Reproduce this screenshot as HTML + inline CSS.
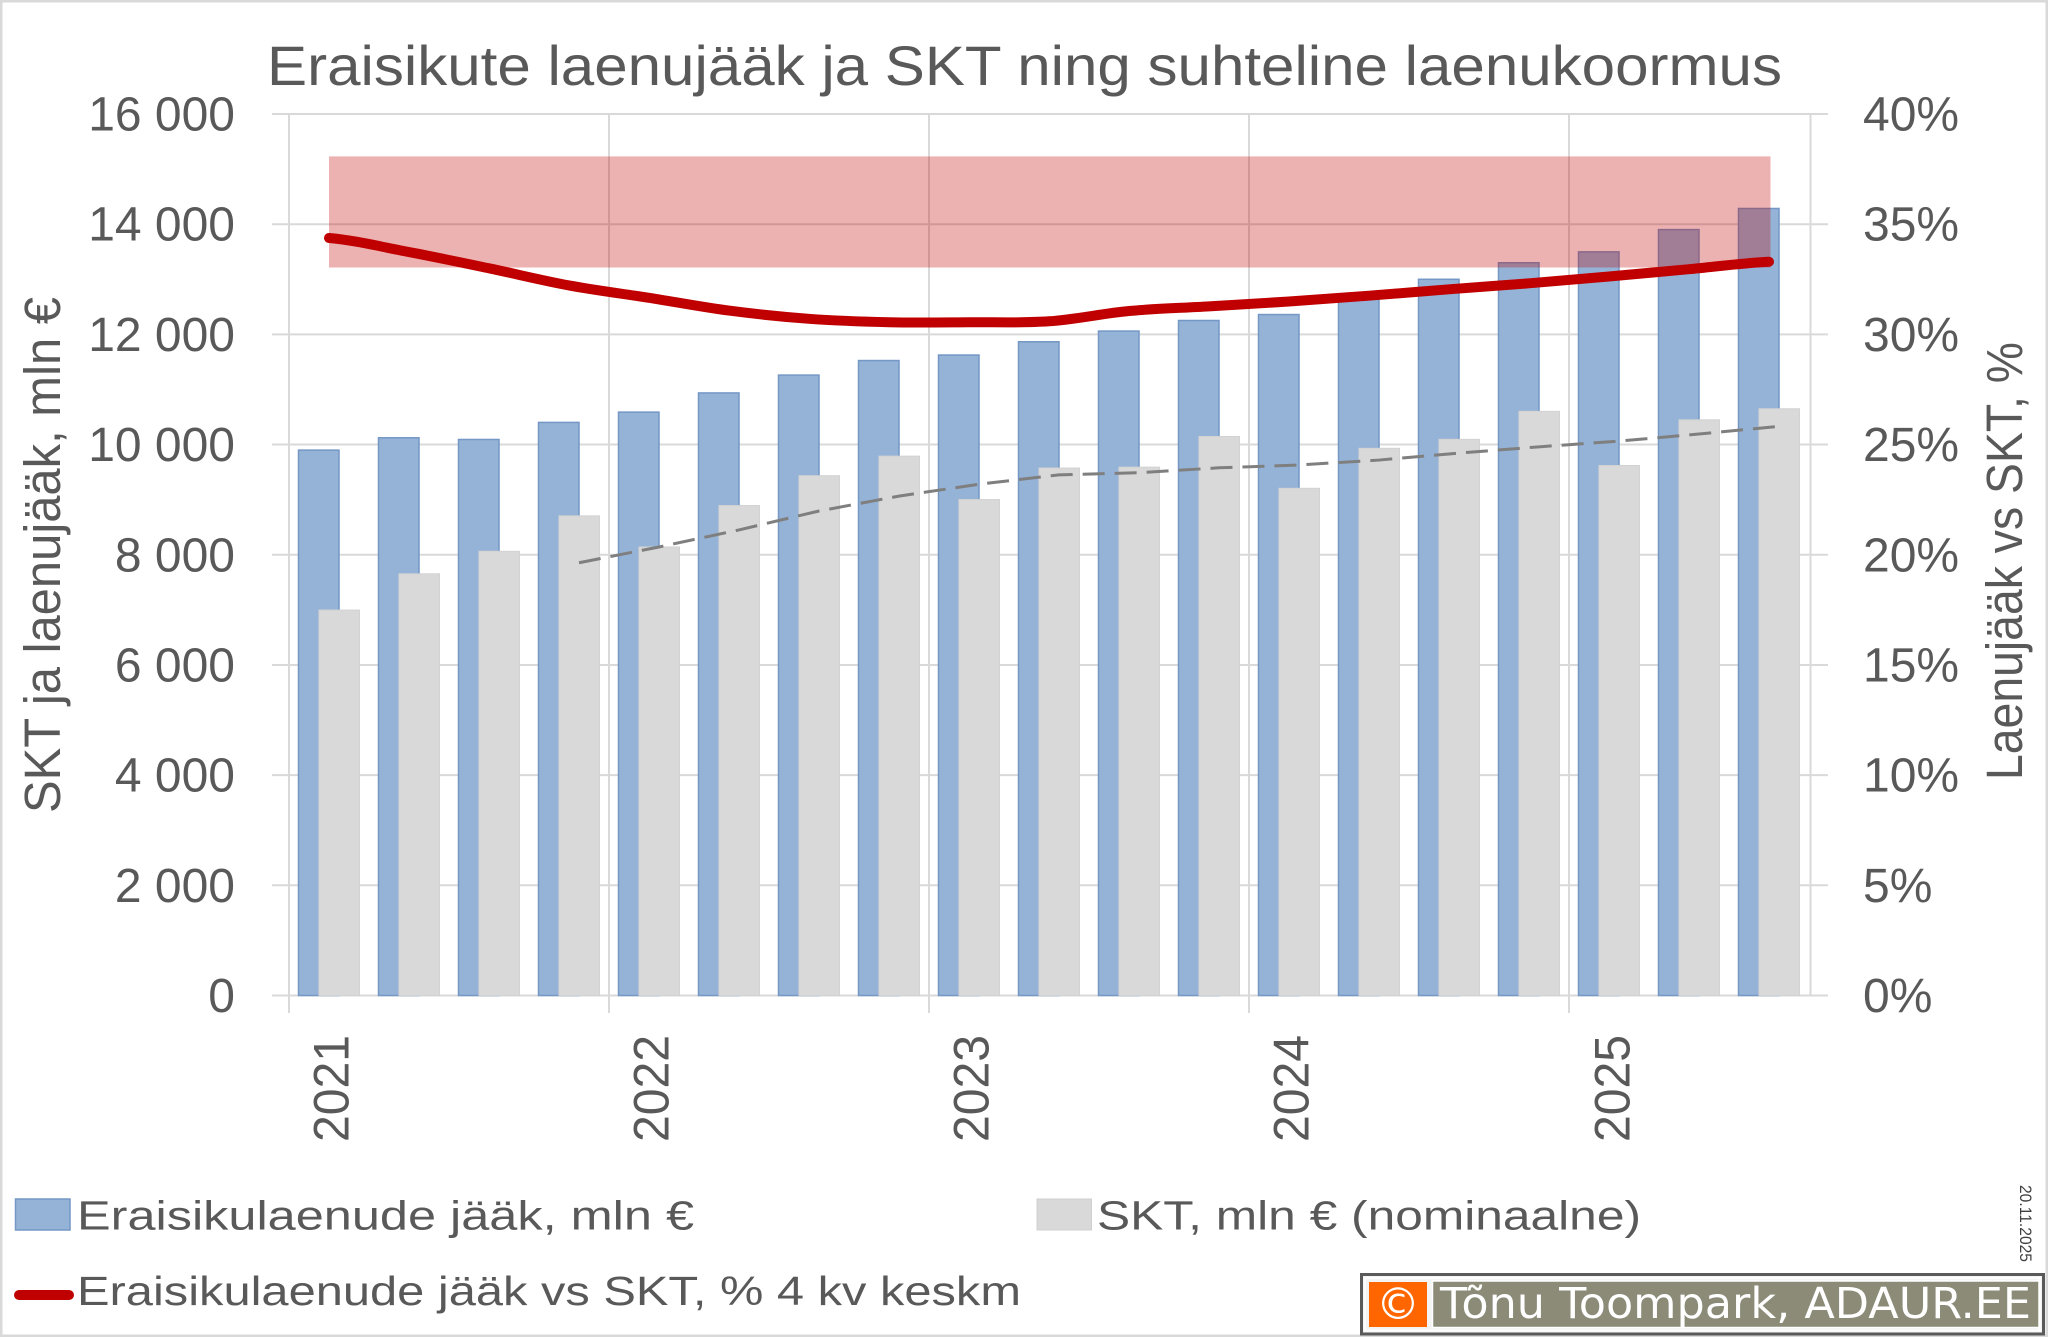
<!DOCTYPE html>
<html>
<head>
<meta charset="utf-8">
<style>
html,body{margin:0;padding:0;background:#fff;}
svg{display:block;}
text{font-family:"Liberation Sans",Arial,sans-serif;fill:#595959;}
</style>
</head>
<body>
<svg width="2048" height="1337" viewBox="0 0 2048 1337" xmlns="http://www.w3.org/2000/svg">
<rect x="0" y="0" width="2048" height="1337" fill="#ffffff"/>
<rect x="1.25" y="1.25" width="2045.5" height="1334.5" fill="none" stroke="#d9d9d9" stroke-width="2.5"/>

<!-- Title -->
<text x="267" y="85" font-size="56" textLength="1515" lengthAdjust="spacingAndGlyphs">Eraisikute laenujääk ja SKT ning suhteline laenukoormus</text>

<!-- Gridlines -->
<g stroke="#d9d9d9" stroke-width="2" fill="none">
<line x1="272" y1="114" x2="1828" y2="114"/>
<line x1="272" y1="224.19" x2="1828" y2="224.19"/>
<line x1="272" y1="334.38" x2="1828" y2="334.38"/>
<line x1="272" y1="444.56" x2="1828" y2="444.56"/>
<line x1="272" y1="554.75" x2="1828" y2="554.75"/>
<line x1="272" y1="664.94" x2="1828" y2="664.94"/>
<line x1="272" y1="775.13" x2="1828" y2="775.13"/>
<line x1="272" y1="885.31" x2="1828" y2="885.31"/>
<line x1="272" y1="995.5" x2="1828" y2="995.5"/>
<line x1="289" y1="114" x2="289" y2="1013"/>
<line x1="609" y1="114" x2="609" y2="1013"/>
<line x1="929" y1="114" x2="929" y2="1013"/>
<line x1="1249" y1="114" x2="1249" y2="1013"/>
<line x1="1569" y1="114" x2="1569" y2="1013"/>
<line x1="1810.5" y1="114" x2="1810.5" y2="995.5"/>
</g>

<!-- Blue bars -->
<g fill="#95b3d7" stroke="#7497c5" stroke-width="1.5">
<rect x="298.5" y="450.13" width="40.5" height="545.37"/>
<rect x="378.5" y="437.79" width="40.5" height="557.71"/>
<rect x="458.5" y="439.49" width="40.5" height="556.01"/>
<rect x="538.5" y="422.41" width="40.5" height="573.09"/>
<rect x="618.5" y="412.11" width="40.5" height="583.39"/>
<rect x="698.5" y="392.94" width="40.5" height="602.56"/>
<rect x="778.5" y="375.09" width="40.5" height="620.41"/>
<rect x="858.5" y="360.54" width="40.5" height="634.96"/>
<rect x="938.5" y="355.03" width="40.5" height="640.47"/>
<rect x="1018.5" y="341.76" width="40.5" height="653.74"/>
<rect x="1098.5" y="331.07" width="40.5" height="664.43"/>
<rect x="1178.5" y="320.49" width="40.5" height="675.01"/>
<rect x="1258.5" y="314.54" width="40.5" height="680.96"/>
<rect x="1338.5" y="298.56" width="40.5" height="696.94"/>
<rect x="1418.5" y="279.28" width="40.5" height="716.22"/>
<rect x="1498.5" y="262.75" width="40.5" height="732.75"/>
<rect x="1578.5" y="251.84" width="40.5" height="743.66"/>
<rect x="1658.5" y="229.59" width="40.5" height="765.91"/>
<rect x="1738.5" y="208.48" width="40.5" height="787.02"/>
</g>

<!-- Gray bars -->
<g fill="#d9d9d9" stroke="#d2d2d2" stroke-width="1">
<rect x="319" y="610.06" width="40.5" height="385.44"/>
<rect x="399" y="573.81" width="40.5" height="421.69"/>
<rect x="479" y="551.28" width="40.5" height="444.22"/>
<rect x="559" y="515.85" width="40.5" height="479.65"/>
<rect x="639" y="546.98" width="40.5" height="448.52"/>
<rect x="719" y="505.55" width="40.5" height="489.95"/>
<rect x="799" y="475.69" width="40.5" height="519.81"/>
<rect x="879" y="456.13" width="40.5" height="539.37"/>
<rect x="959" y="499.55" width="40.5" height="495.95"/>
<rect x="1039" y="468.03" width="40.5" height="527.47"/>
<rect x="1119" y="467.15" width="40.5" height="528.35"/>
<rect x="1199" y="436.46" width="40.5" height="559.04"/>
<rect x="1279" y="488.31" width="40.5" height="507.19"/>
<rect x="1359" y="448.31" width="40.5" height="547.19"/>
<rect x="1439" y="439.33" width="40.5" height="556.17"/>
<rect x="1519" y="411.34" width="40.5" height="584.16"/>
<rect x="1599" y="465.5" width="40.5" height="530.0"/>
<rect x="1679" y="419.82" width="40.5" height="575.68"/>
<rect x="1759" y="408.75" width="40.5" height="586.75"/>
</g>

<!-- Band -->
<rect x="329" y="156.4" width="1441.5" height="111.1" fill="rgb(192,0,0)" fill-opacity="0.3"/>

<!-- Moving average dashed -->
<polyline fill="none" stroke="#7f7f7f" stroke-width="3" stroke-dasharray="22,10"
points="579,562.76 659,546.98 739,529.91 819,511.02 899,496.09 979,484.23 1059,474.85 1139,472.72 1219,467.8 1299,464.99 1379,460.06 1459,453.1 1539,446.82 1619,441.12 1699,434.0 1779,426.35"/>

<!-- Red line -->
<path fill="none" stroke="#c00000" stroke-width="10" stroke-linecap="round" stroke-linejoin="round"
d="M329,238
C355.67,240.35 382.33,247.05 409,252.1
C435.67,257.15 462.33,262.75 489,268.3
C515.67,273.85 542.33,280.48 569,285.4
C595.67,290.32 622.33,293.6 649,297.8
C675.67,302 702.33,307.1 729,310.6
C755.67,314.1 782.33,316.87 809,318.8
C835.67,320.73 862.33,321.63 889,322.2
C915.67,322.77 942.33,322.35 969,322.2
C995.67,322.05 1022.33,323.17 1049,321.3
C1075.67,319.43 1102.33,313.48 1129,311
C1155.67,308.52 1182.33,307.98 1209,306.4
C1235.67,304.82 1262.33,303.28 1289,301.5
C1315.67,299.72 1342.33,297.73 1369,295.7
C1395.67,293.67 1422.33,291.37 1449,289.3
C1475.67,287.23 1502.33,285.43 1529,283.3
C1555.67,281.17 1582.33,278.85 1609,276.5
C1635.67,274.15 1662.33,271.67 1689,269.2
C1715.67,266.73 1742.33,262.95 1769,261.7"/>

<!-- Left axis labels -->
<g font-size="48" text-anchor="end">
<text x="235" y="130.5">16 000</text>
<text x="235" y="240.7">14 000</text>
<text x="235" y="350.9">12 000</text>
<text x="235" y="461.1">10 000</text>
<text x="235" y="571.3">8 000</text>
<text x="235" y="681.4">6 000</text>
<text x="235" y="791.6">4 000</text>
<text x="235" y="901.8">2 000</text>
<text x="235" y="1012">0</text>
</g>

<!-- Right axis labels -->
<g font-size="48">
<text x="1863" y="130.5">40%</text>
<text x="1863" y="240.7">35%</text>
<text x="1863" y="350.9">30%</text>
<text x="1863" y="461.1">25%</text>
<text x="1863" y="571.3">20%</text>
<text x="1863" y="681.4">15%</text>
<text x="1863" y="791.6">10%</text>
<text x="1863" y="901.8">5%</text>
<text x="1863" y="1012">0%</text>
</g>

<!-- Axis titles -->
<text transform="translate(60,813) rotate(-90)" font-size="51" textLength="516" lengthAdjust="spacingAndGlyphs">SKT ja laenujääk, mln €</text>
<text transform="translate(2022,780) rotate(-90)" font-size="51" textLength="438" lengthAdjust="spacingAndGlyphs">Laenujääk vs SKT, %</text>

<!-- X labels -->
<g font-size="50">
<text transform="translate(348.5,1142) rotate(-90)" textLength="107" lengthAdjust="spacingAndGlyphs">2021</text>
<text transform="translate(668.5,1142) rotate(-90)" textLength="107" lengthAdjust="spacingAndGlyphs">2022</text>
<text transform="translate(988.5,1142) rotate(-90)" textLength="107" lengthAdjust="spacingAndGlyphs">2023</text>
<text transform="translate(1308.5,1142) rotate(-90)" textLength="107" lengthAdjust="spacingAndGlyphs">2024</text>
<text transform="translate(1629.5,1142) rotate(-90)" textLength="107" lengthAdjust="spacingAndGlyphs">2025</text>
</g>

<!-- Legend -->
<rect x="15.5" y="1199" width="54.5" height="31" fill="#95b3d7" stroke="#7497c5" stroke-width="1.5"/>
<text x="77" y="1229.5" font-size="41" textLength="617" lengthAdjust="spacingAndGlyphs">Eraisikulaenude jääk, mln €</text>
<rect x="1037" y="1199" width="54.5" height="31" fill="#d9d9d9" stroke="#d0d0d0" stroke-width="1"/>
<text x="1097" y="1229.5" font-size="41" textLength="544" lengthAdjust="spacingAndGlyphs">SKT, mln € (nominaalne)</text>
<line x1="19" y1="1295" x2="69" y2="1295" stroke="#c00000" stroke-width="10" stroke-linecap="round"/>
<text x="77" y="1305" font-size="41" textLength="944" lengthAdjust="spacingAndGlyphs">Eraisikulaenude jääk vs SKT, % 4 kv keskm</text>

<!-- Date -->
<text transform="translate(2020,1185) rotate(90)" font-size="17" textLength="77" lengthAdjust="spacingAndGlyphs" style="fill:#404040">20.11.2025</text>

<!-- Copyright box -->
<rect x="1361.5" y="1274.5" width="682" height="59.5" fill="#f4f4f4" stroke="#5a5a5a" stroke-width="3"/>
<rect x="1365" y="1278" width="675" height="52.5" fill="none" stroke="#ffffff" stroke-width="1.5"/>
<rect x="1369" y="1282" width="58" height="45" fill="#ff6600"/>
<rect x="1432.5" y="1281" width="606.5" height="46.5" fill="#8b8b78" stroke="#ffffff" stroke-width="1.5"/>
<text x="1398" y="1319" font-size="44" text-anchor="middle" style="font-family:'DejaVu Sans',sans-serif;fill:#ffffff">©</text>
<text x="1440" y="1318" font-size="43" textLength="591" lengthAdjust="spacingAndGlyphs" style="font-family:'DejaVu Sans',sans-serif;fill:#ffffff">Tõnu Toompark, ADAUR.EE</text>
</svg>
</body>
</html>
